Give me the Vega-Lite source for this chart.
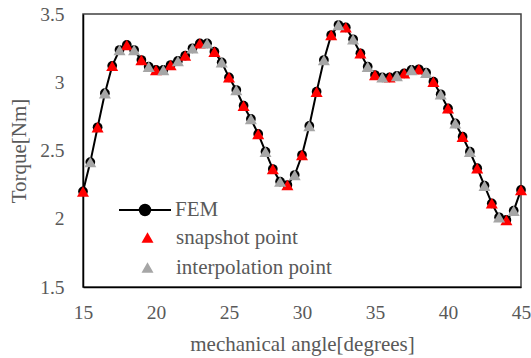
{
  "$schema": "https://vega.github.io/schema/vega-lite/v6.json",
  "width": 438,
  "height": 273,
  "autosize": {"type": "none"},
  "padding": {"left": 83, "top": 14, "right": 10, "bottom": 71},
  "background": "white",
  "config": {
    "view": {"stroke": "#404040", "strokeWidth": 1.5},
    "font": "Liberation Serif",
    "axis": {
      "labelFont": "Liberation Serif", "titleFont": "Liberation Serif",
      "labelColor": "#595959", "titleColor": "#595959",
      "labelFontSize": 19.5, "titleFontSize": 21, "titleFontWeight": "normal",
      "grid": false, "ticks": false, "domainColor": "black", "domainWidth": 1.5,
      "labelFlush": false
    },
    "legend": {
      "labelFont": "Liberation Serif", "labelFontSize": 21, "labelColor": "#595959",
      "padding": 0, "titlePadding": 0
    }
  },
  "datasets": {
    "fem": [
      {"a": 15, "t": 2.20}, {"a": 15.5, "t": 2.415}, {"a": 16, "t": 2.67}, {"a": 16.5, "t": 2.92},
      {"a": 17, "t": 3.12}, {"a": 17.5, "t": 3.236}, {"a": 18, "t": 3.273}, {"a": 18.5, "t": 3.236},
      {"a": 19, "t": 3.163}, {"a": 19.5, "t": 3.114}, {"a": 20, "t": 3.09}, {"a": 20.5, "t": 3.09},
      {"a": 21, "t": 3.126}, {"a": 21.5, "t": 3.156}, {"a": 22, "t": 3.195}, {"a": 22.5, "t": 3.249},
      {"a": 23, "t": 3.285}, {"a": 23.5, "t": 3.285}, {"a": 24, "t": 3.224}, {"a": 24.5, "t": 3.146},
      {"a": 25, "t": 3.036}, {"a": 25.5, "t": 2.943}, {"a": 26, "t": 2.828}, {"a": 26.5, "t": 2.731},
      {"a": 27, "t": 2.621}, {"a": 27.5, "t": 2.491}, {"a": 28, "t": 2.364}, {"a": 28.5, "t": 2.272},
      {"a": 29, "t": 2.247}, {"a": 29.5, "t": 2.32}, {"a": 30, "t": 2.467}, {"a": 30.5, "t": 2.68},
      {"a": 31, "t": 2.931}, {"a": 31.5, "t": 3.163}, {"a": 32, "t": 3.346}, {"a": 32.5, "t": 3.419},
      {"a": 33, "t": 3.402}, {"a": 33.5, "t": 3.315}, {"a": 34, "t": 3.212}, {"a": 34.5, "t": 3.114},
      {"a": 35, "t": 3.053}, {"a": 35.5, "t": 3.036}, {"a": 36, "t": 3.036}, {"a": 36.5, "t": 3.046},
      {"a": 37, "t": 3.065}, {"a": 37.5, "t": 3.09}, {"a": 38, "t": 3.095}, {"a": 38.5, "t": 3.07},
      {"a": 39, "t": 3.004}, {"a": 39.5, "t": 2.912}, {"a": 40, "t": 2.809}, {"a": 40.5, "t": 2.699},
      {"a": 41, "t": 2.601}, {"a": 41.5, "t": 2.491}, {"a": 42, "t": 2.37}, {"a": 42.5, "t": 2.242},
      {"a": 43, "t": 2.113}, {"a": 43.5, "t": 2.011}, {"a": 44, "t": 1.991}, {"a": 44.5, "t": 2.059},
      {"a": 45, "t": 2.211}
    ]
  },
  "data": {"name": "fem"},
  "encoding": {
    "x": {"field": "a", "type": "quantitative",
      "scale": {"domain": [15, 45], "nice": false, "zero": false},
      "axis": {"values": [15, 20, 25, 30, 35, 40, 45], "labelPadding": 16, "labelFlush": false,
        "labelFont": "Liberation Serif", "titleFont": "Liberation Serif",
        "title": "mechanical angle[degrees]", "titlePadding": 12}},
    "y": {"field": "t", "type": "quantitative",
      "scale": {"domain": [1.5, 3.5], "nice": false, "zero": false},
      "axis": {"values": [1.5, 2, 2.5, 3, 3.5], "format": "~g", "labelPadding": 19, "labelFlush": false,
        "labelFont": "Liberation Serif", "titleFont": "Liberation Serif",
        "title": "Torque[Nm]", "titlePadding": 10}}
  },
  "layer": [
    {
      "layer": [
        {"mark": {"type": "line", "color": "black", "strokeWidth": 2},
         "encoding": {"color": {"datum": "FEM", "scale": {"domain": ["FEM"], "range": ["black"]},
           "legend": {"title": null, "orient": "none", "legendX": 48, "legendY": 182,
             "labelFont": "Liberation Serif", "labelFontSize": 21, "labelColor": "#595959",
             "symbolType": "M-2,0H2M0.4,0A0.4,0.4 0 1,1 -0.4,0A0.4,0.4 0 1,1 0.4,0",
             "symbolSize": 676, "labelOffset": 16,
             "symbolFillColor": "black", "symbolStrokeColor": "black", "symbolStrokeWidth": 2,
             "encode": {"symbols": {"update": {"fill": {"value": "black"}, "stroke": {"value": "black"}, "strokeWidth": {"value": 2}, "size": {"value": 676}}}}}}}},
        {"mark": {"type": "point", "shape": "circle", "filled": true, "size": 95, "opacity": 1},
         "encoding": {"color": {"datum": "FEM"}}}
      ]
    },
    {
      "layer": [
        {"transform": [{"filter": "datum.a % 1 == 0"}],
         "mark": {"type": "point", "shape": "triangle-up", "filled": true, "size": 145, "opacity": 1},
         "encoding": {"color": {"datum": "snapshot point",
           "scale": {"domain": ["snapshot point", "interpolation point"], "range": ["#ff0000", "#a6a6a6"]},
           "legend": {"title": null, "orient": "none", "legendX": 54, "legendY": 213,
             "labelFont": "Liberation Serif", "labelFontSize": 21, "labelColor": "#595959",
             "symbolType": "triangle-up", "symbolSize": 144, "labelOffset": 18, "rowPadding": 8,
             "symbolOpacity": 1}}}},
        {"transform": [{"filter": "datum.a % 1 != 0"}],
         "mark": {"type": "point", "shape": "triangle-up", "filled": true, "size": 145, "opacity": 1},
         "encoding": {"color": {"datum": "interpolation point"}}}
      ]
    }
  ],
  "resolve": {"scale": {"color": "independent"}, "legend": {"color": "independent"}}
}
